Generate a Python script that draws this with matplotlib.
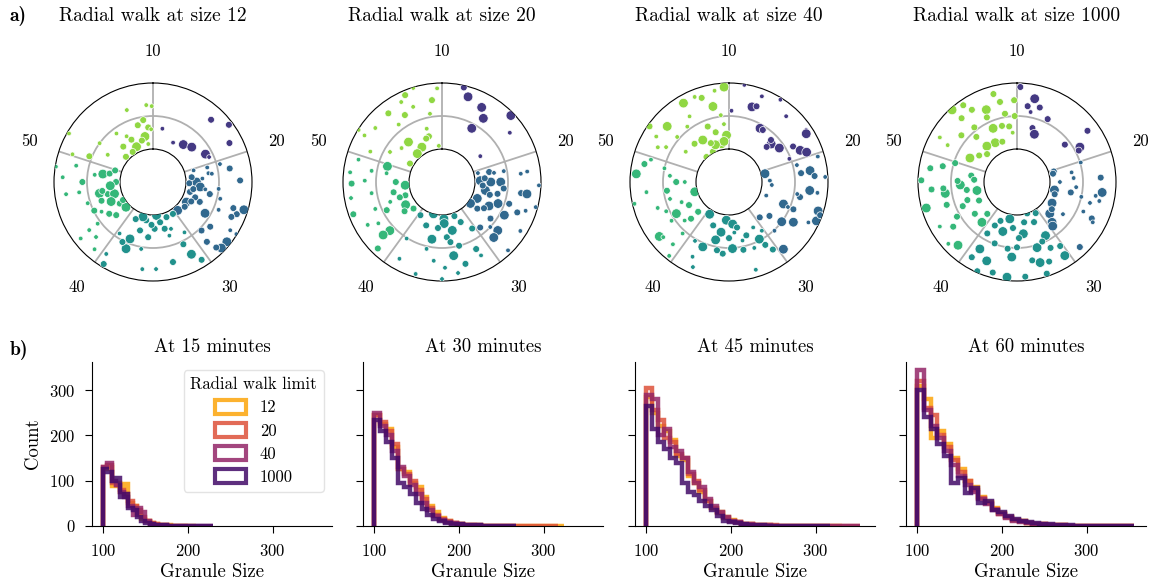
import numpy as np
import matplotlib.pyplot as plt
from matplotlib.patches import Patch
import seaborn as sns

plt.rcParams['font.family'] = ['cmr10']
plt.rcParams['mathtext.fontset'] = 'cm'
plt.rcParams['axes.formatter.use_mathtext'] = True

# ---- data: radial walk snapshots (theta in deg, radius 0..1, size class) ----
walk_sizes = [12, 20, 40, 1000]
sector_angles = [0, 72, 144, 216, 288]
sector_labels = ['10', '20', '30', '40', '50']

pts_12 = np.array([
    (10, .32, 1), (27, .17, 1), (39, .23, 3), (48, .29, 3), (43, .79, 2), (53, .94, 2), (63, .80, 2), (62, .40, 3), (66, .43, 1),
    (74, .14, 1), (75, .35, 1), (80, .68, 2), (75, .55, 1), (81, .35, 1), (89, .82, 2), (90, .16, 3), (83, .09, 2), (96, .22, 3),
    (105, .08, 2), (102, .38, 2), (113, .27, 2), (121, .09, 3), (139, .07, 3), (128, .11, 2), (121, .42, 3), (96, .50, 1),
    (113, .58, 1), (108, .78, 2), (111, .86, 2), (107, .94, 3), (114, .80, 2), (122, .99, 1), (129, .94, 3), (134, .94, 3),
    (136, .88, 2), (138, .72, 2), (128, .60, 2), (135, .54, 2), (122, .88, 1), (82, .40, 1), (104, .55, 1), (92, .05, 2),
    (100, .12, 2), (110, .18, 2), (117, .15, 2), (86, .25, 1), (98, .30, 1),
    (174, .01, 3), (190, .09, 2), (195, .26, 2), (202, .43, 3), (202, .59, 3), (178, .21, 2), (166, .23, 2), (159, .26, 1),
    (185, .34, 2), (148, .40, 1), (154, .55, 2), (152, .74, 3), (148, .89, 2), (166, .75, 2), (178, .82, 1), (187, .83, 1),
    (211, .95, 2), (213, .80, 1), (190, .53, 1), (207, .52, 2), (213, .43, 1), (196, .05, 3), (159, .07, 2), (148, .07, 2),
    (170, .12, 2), (182, .15, 2), (205, .12, 2), (163, .35, 1),
    (279, .27, 3), (258, .33, 3), (250, .33, 2), (255, .21, 2), (253, .11, 3), (237, .10, 2), (270, .06, 2), (281, .17, 2),
    (277, .39, 1), (270, .57, 2), (262, .63, 1), (262, .83, 1), (273, .87, 1), (279, .99, 1), (282, .69, 1), (252, .54, 1),
    (244, .49, 2), (234, .32, 2), (233, .55, 1), (233, .71, 1), (232, .89, 1), (221, .85, 1), (226, .70, 1), (228, .25, 2),
    (227, .06, 3), (239, .03, 2), (265, .15, 3), (245, .20, 3), (260, .28, 2), (287, .10, 2), (240, .40, 1),
    (350, .20, 3), (335, .09, 3), (326, .05, 2), (313, .06, 2), (351, .45, 2), (345, .39, 2), (355, .33, 2), (340, .66, 1),
    (355, .67, 1), (359, .65, 1), (323, .42, 1), (306, .50, 1), (292, .54, 2), (300, .97, 1), (289, .79, 1), (301, .30, 1),
    (320, .20, 2), (333, .22, 2), (358, .30, 1), (345, .15, 2), (353, .08, 1), (330, .30, 1),
])

pts_20 = np.array([
    (13, .97, 2), (17, .85, 3), (28, .78, 3), (33, .65, 3), (29, .43, 3), (46, .95, 3), (54, .77, 1), (56, .20, 1),
    (76, .06, 1), (78, .23, 2), (80, .30, 1), (88, .08, 3), (90, .24, 3), (90, .39, 3), (101, .17, 3), (115, .09, 3),
    (127, .04, 3), (127, .17, 2), (117, .30, 3), (111, .41, 3), (102, .36, 2), (96, .44, 2), (131, .62, 3), (137, .65, 3),
    (140, .40, 2), (127, .42, 2), (112, .73, 2), (109, .84, 1), (98, .71, 2), (98, .80, 3), (83, .80, 1), (84, .70, 1),
    (92, .97, 1), (105, .97, 1), (122, .90, 1), (136, .94, 1), (118, .57, 3), (108, .57, 2), (85, .15, 2), (95, .12, 2),
    (105, .25, 2), (122, .25, 2), (80, .45, 1), (133, .50, 1),
    (195, .00, 3), (177, .06, 3), (177, .13, 3), (168, .25, 3), (175, .34, 2), (190, .38, 3), (172, .42, 2), (171, .63, 3),
    (155, .17, 2), (147, .34, 2), (153, .64, 2), (152, .76, 1), (164, .79, 2), (170, .90, 1), (180, .97, 1), (186, .70, 1),
    (193, .54, 1), (196, .95, 1), (209, .83, 1), (212, .51, 1), (213, .10, 2), (200, .20, 2), (185, .20, 2), (160, .05, 2),
    (165, .50, 2), (178, .80, 1),
    (286, .36, 3), (279, .35, 1), (265, .06, 3), (250, .09, 2), (227, .09, 2), (250, .18, 2), (249, .34, 1), (243, .44, 2),
    (227, .58, 3), (228, .70, 3), (224, .90, 2), (250, .93, 2), (260, .90, 1), (269, .87, 2), (276, .90, 1), (285, .81, 1),
    (271, .67, 1), (261, .58, 1), (248, .59, 1), (237, .65, 1), (279, .58, 1), (238, .15, 3), (232, .22, 2), (258, .25, 2),
    (270, .20, 2), (240, .80, 1),
    (330, .11, 3), (319, .07, 3), (320, .29, 3), (300, .06, 2), (331, .66, 2), (337, .93, 2), (343, .99, 1), (357, .92, 1),
    (353, .75, 2), (339, .72, 1), (322, .82, 2), (309, .80, 1), (301, .87, 1), (302, .99, 1), (293, .68, 1), (300, .41, 1),
    (344, .22, 2), (344, .34, 1), (333, .86, 1), (323, .59, 1), (355, .05, 1), (340, .20, 2), (310, .30, 1), (350, .55, 1),
])

pts_40 = np.array([
    (2, .58, 1), (9, .99, 1), (17, .69, 3), (21, .89, 1), (32, .97, 1), (41, .82, 1), (30, .44, 3), (33, .44, 2), (48, .36, 3),
    (56, .42, 3), (47, .28, 2), (56, .91, 1), (58, .88, 3), (61, .61, 2), (66, .68, 3), (69, .76, 3), (69, .48, 1), (20, .72, 2),
    (45, .40, 2),
    (77, .06, 3), (88, .12, 1), (94, .15, 1), (110, .10, 1), (76, .56, 1), (82, .74, 3), (83, .60, 2), (86, .80, 2), (87, .96, 1),
    (74, .90, 1), (96, .73, 3), (97, .85, 1), (102, .60, 2), (112, .39, 3), (113, .47, 1), (127, .50, 3), (122, .65, 3),
    (117, .85, 1), (114, .95, 3), (108, .92, 3), (110, .97, 2), (139, .21, 2), (141, .81, 3), (137, .51, 1), (113, .56, 2),
    (100, .55, 1), (130, .30, 2),
    (184, .08, 3), (175, .14, 3), (189, .27, 3), (193, .40, 3), (211, .07, 3), (174, .27, 1), (167, .41, 1), (162, .35, 2),
    (152, .28, 1), (146, .39, 1), (152, .48, 3), (177, .51, 3), (168, .55, 2), (159, .57, 1), (147, .72, 2), (163, .89, 1),
    (185, .59, 2), (190, .55, 2), (202, .56, 3), (206, .76, 1), (203, .90, 1), (210, .53, 1), (150, .60, 2), (170, .20, 2),
    (200, .20, 2), (180, .35, 2),
    (254, .04, 3), (226, .15, 2), (226, .30, 2), (239, .43, 3), (247, .28, 1), (254, .43, 1), (270, .30, 2), (270, .17, 1),
    (282, .50, 1), (286, .73, 1), (282, .81, 2), (275, .91, 3), (263, .76, 1), (257, .97, 1), (232, .84, 3), (230, .80, 1),
    (219, .94, 1), (222, .77, 1), (229, .39, 1), (236, .55, 1), (245, .55, 1), (262, .45, 2), (240, .20, 2), (276, .40, 1),
    (250, .65, 1), (222, .55, 1),
    (349, .09, 3), (357, .21, 3), (353, .12, 3), (332, .02, 2), (318, .01, 2), (328, .25, 3), (318, .28, 2), (339, .40, 2),
    (323, .55, 1), (311, .54, 1), (312, .76, 3), (305, .97, 2), (302, .80, 1), (299, .59, 1), (330, .88, 3), (338, .89, 1),
    (342, .84, 2), (348, .67, 3), (351, .90, 1), (357, .94, 3), (353, .52, 1), (329, .66, 1), (340, .10, 3), (345, .28, 2),
    (305, .30, 1), (355, .38, 1), (296, .70, 1), (335, .15, 2),
])

pts_1000 = np.array([
    (12, .79, 3), (17, .68, 2), (8, .66, 2), (11, .58, 1), (26, .56, 2), (16, .35, 2), (20, .27, 3), (54, .82, 2), (52, .42, 2),
    (61, .59, 3), (63, .55, 2), (74, .08, 2),
    (77, .06, 2), (80, .34, 1), (86, .36, 1), (73, .51, 1), (87, .77, 2), (97, .80, 3), (100, .71, 1), (103, .78, 1),
    (106, .65, 1), (103, .50, 1), (101, .33, 2), (102, .08, 3), (108, .10, 2), (121, .12, 3), (134, .19, 3), (128, .17, 2),
    (139, .31, 3), (141, .36, 3), (116, .76, 2), (118, .80, 1), (136, .87, 2), (114, .60, 1), (95, .40, 1), (90, .15, 1),
    (125, .35, 1),
    (191, .07, 3), (196, .28, 3), (207, .24, 2), (203, .14, 2), (173, .29, 3), (162, .00, 2), (149, .05, 2), (157, .16, 2),
    (152, .42, 3), (163, .54, 3), (157, .48, 2), (180, .49, 2), (184, .64, 3), (188, .52, 2), (200, .49, 2), (201, .78, 3),
    (209, .66, 3), (211, .83, 2), (204, .98, 2), (186, .95, 3), (175, .94, 2), (169, .71, 2), (164, .77, 3), (162, .96, 2),
    (158, .80, 2), (147, .83, 3), (146, .67, 2), (153, .62, 2), (195, .92, 2), (185, .20, 2), (170, .12, 2), (178, .35, 2),
    (210, .40, 2),
    (267, .36, 3), (271, .40, 2), (261, .60, 3), (265, .62, 2), (254, .93, 3), (271, .95, 2), (279, .83, 2), (287, .48, 2),
    (261, .27, 2), (250, .30, 2), (258, .12, 3), (244, .14, 2), (223, .16, 2), (221, .31, 3), (233, .30, 2), (223, .81, 3),
    (235, .68, 2), (240, .85, 1), (252, .62, 2), (246, .40, 2), (228, .90, 1), (265, .80, 2), (278, .20, 2), (282, .65, 2),
    (240, .55, 2), (273, .15, 2),
    (331, .18, 3), (340, .15, 2), (320, .21, 3), (313, .12, 2), (297, .30, 3), (305, .20, 2), (336, .39, 3), (345, .38, 2),
    (352, .35, 2), (337, .69, 3), (335, .58, 2), (328, .79, 2), (319, .78, 2), (318, .97, 3), (325, .92, 2), (348, .74, 2),
    (358, .74, 2), (2, .94, 2), (300, .85, 1), (298, .69, 1), (318, .42, 2), (322, .55, 2), (350, .55, 2), (358, .50, 2),
    (355, .25, 1), (310, .60, 2), (345, .88, 2),
])

walk_points = [pts_12, pts_20, pts_40, pts_1000]

# ---- data: granule size histograms (counts per bin, bins start at 100) ----
minutes = [15, 30, 45, 60]
bin_widths = [5, 7, 7, 8]
limits = ['12', '20', '40', '1000']

counts_15 = [
    [125, 130, 88, 95, 75, 92, 50, 45, 28, 16, 10, 6, 4, 3, 2, 2, 1, 1, 1, 0, 0, 1],
    [130, 135, 95, 90, 80, 70, 55, 45, 35, 20, 12, 7, 4, 3, 2, 1, 1, 1, 0, 1],
    [130, 138, 100, 90, 75, 65, 45, 25, 40, 30, 10, 5, 3, 2, 2, 1, 1, 1, 1, 0, 1, 0, 0, 0, 0, 1],
    [125, 120, 100, 105, 65, 70, 40, 35, 20, 10, 6, 4, 3, 2, 2, 1, 1, 1, 1, 1, 0, 1, 0, 0, 1, 1],
]
counts_30 = [
    [245, 225, 215, 175, 125, 120, 95, 85, 65, 45, 30, 18, 10, 6, 4, 3, 2, 2, 1, 1, 1, 1, 1, 1, 1, 0, 1, 1, 1, 1, 1, 1],
    [245, 230, 210, 180, 125, 115, 100, 80, 60, 40, 25, 15, 10, 6, 4, 3, 2, 1, 1, 1, 1, 0, 1, 0, 1, 1, 1, 1, 1, 1, 1],
    [250, 220, 200, 165, 130, 110, 90, 70, 50, 35, 22, 14, 9, 6, 4, 3, 2, 2, 1, 1, 1, 1, 0, 0],
    [235, 210, 185, 150, 95, 85, 70, 50, 38, 25, 15, 10, 7, 5, 4, 3, 2, 2, 1, 1, 1, 1, 1, 0],
]
counts_45 = [
    [285, 250, 220, 210, 190, 155, 145, 110, 95, 75, 55, 40, 30, 20, 13, 8, 5, 4, 3, 2, 2, 1, 1, 1, 1, 1, 1, 1, 1, 1, 1, 1, 1],
    [305, 255, 235, 195, 185, 160, 150, 115, 100, 80, 55, 40, 28, 18, 12, 8, 5, 4, 3, 2, 2, 2, 1, 1, 1, 1, 1, 1, 1, 1, 1, 1, 1, 1, 1, 1],
    [290, 280, 200, 215, 175, 165, 150, 120, 95, 85, 60, 45, 30, 20, 12, 8, 5, 4, 3, 2, 2, 1, 1, 1, 1, 1, 1, 1, 1, 1, 1, 1, 1, 1, 1, 1],
    [265, 215, 185, 170, 150, 140, 95, 75, 68, 55, 45, 35, 22, 12, 8, 6, 4, 3, 2, 2, 1, 1, 1, 1, 1, 0, 1, 1, 1, 1, 1],
]
counts_60 = [
    [310, 280, 195, 210, 180, 150, 125, 100, 85, 65, 52, 40, 28, 20, 13, 10, 7, 5, 4, 3, 2, 2, 1, 1, 1, 1, 1, 1, 1, 1, 1, 1],
    [320, 260, 245, 200, 175, 145, 120, 100, 80, 62, 50, 38, 27, 19, 13, 10, 7, 5, 4, 3, 2, 2, 1, 1, 1, 1, 1, 1, 1, 1, 1, 1],
    [345, 255, 220, 195, 165, 135, 110, 90, 75, 60, 48, 35, 26, 18, 12, 9, 7, 5, 4, 3, 2, 2, 1, 1, 1, 1, 1, 1, 1, 1, 1, 1],
    [300, 240, 215, 180, 155, 95, 105, 72, 83, 50, 55, 35, 30, 22, 15, 12, 8, 6, 5, 4, 3, 2, 2, 1, 1, 1, 1, 1, 1, 1, 1, 1],
]
all_counts = [counts_15, counts_30, counts_45, counts_60]

sector_colors = sns.color_palette('viridis', 5)
limit_colors = sns.color_palette('inferno_r', 4)
dot_sizes = {1: 11, 2: 24, 3: 48}

fig = plt.figure(figsize=(11.58, 5.88), dpi=100)
W, H = 1158, 588

# a) polar panels
centers = [153, 442, 729, 1017]
rad = 99
for cx, n, pts in zip(centers, walk_sizes, walk_points):
    ax = fig.add_axes([(cx - rad) / W, (406 - rad) / H, 2 * rad / W, 2 * rad / H], projection='polar')
    ax.set_theta_zero_location('N')
    ax.set_theta_direction(-1)
    ax.set_rorigin(-0.5)
    theta, r, cls = pts[:, 0], pts[:, 1], pts[:, 2].astype(int)
    sector = (theta // 72).astype(int) % 5
    ax.scatter(np.deg2rad(theta), r, s=[dot_sizes[c] for c in cls],
               c=[sector_colors[s] for s in sector], edgecolors='white', linewidths=0.5, zorder=3)
    ax.set_ylim(0, 1)
    ax.set_thetagrids(sector_angles, labels=sector_labels, fontsize=12)
    ax.set_rgrids([0.5])
    ax.set_yticklabels([])
    ax.grid(color='#b0b0b0', lw=1.3)
    ax.set_axisbelow(True)
    ax.tick_params(axis='x', pad=12)
    ax.spines['polar'].set_linewidth(0.8)
    ax.spines['inner'].set_linewidth(0.8)
    ax.set_title(f'Radial walk at size {n}', y=1.315, pad=0, fontsize=14)

# b) histograms
lefts = [92, 363, 635, 906]
for i, (lx, m, bw, counts) in enumerate(zip(lefts, minutes, bin_widths, all_counts)):
    ax = fig.add_axes([lx / W, 62 / H, 240 / W, 164 / H])
    for lab, col, cnt in zip(limits, limit_colors, counts):
        edges = 100 + bw * np.arange(len(cnt) + 1)
        ax.stairs(cnt, edges, baseline=0, color=col, lw=3.2, alpha=0.85)
    ax.set_xlim(87, 370)
    ax.set_ylim(0, 362)
    ax.set_xticks([100, 200, 300])
    ax.set_yticks([0, 100, 200, 300])
    ax.spines[['top', 'right']].set_visible(False)
    ax.tick_params(labelsize=12, length=5, pad=7)
    ax.set_title(f'At {m} minutes', fontsize=13.5, pad=7)
    ax.set_xlabel('Granule Size', fontsize=13.5, labelpad=3)
    if i == 0:
        ax.set_ylabel('Count', fontsize=13.5, labelpad=5)
        handles = [Patch(facecolor='none', edgecolor=c, lw=3, alpha=0.85) for c in limit_colors]
        ax.legend(handles, limits, title='Radial walk limit', loc='upper right',
                  fontsize=12, title_fontsize=12, edgecolor='#dddddd',
                  handlelength=1.9, handleheight=0.9, labelspacing=0.45, borderpad=0.4)
    else:
        ax.set_yticklabels([])

fig.text(10 / W, 1 - 16 / H, 'a)', family='cmb10', fontsize=14, va='center')
fig.text(10 / W, 1 - 350 / H, 'b)', family='cmb10', fontsize=14, va='center')

fig.savefig('out.png', dpi=100)
